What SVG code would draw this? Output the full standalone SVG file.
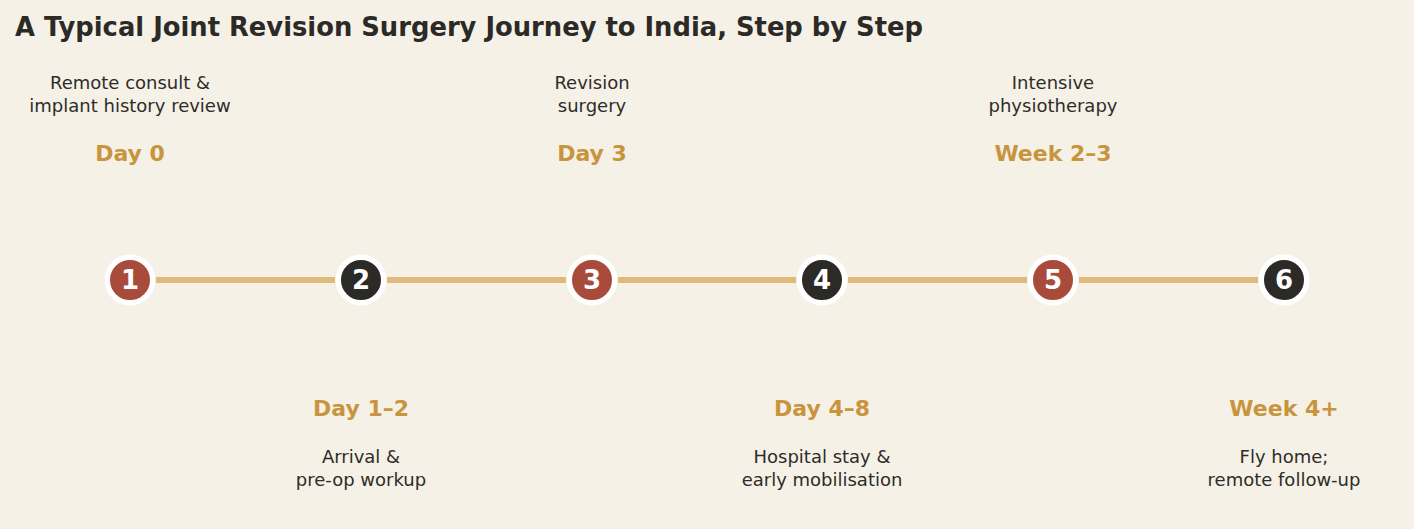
<svg xmlns="http://www.w3.org/2000/svg" width="1414" height="529" viewBox="0 0 1414 529">
<style>
.title{font-family:"DejaVu Sans",sans-serif;font-weight:bold;font-size:25.8px;fill:#2b2a27}
.desc{font-family:"DejaVu Sans",sans-serif;font-size:18px;fill:#2e2c29;text-anchor:middle}
.when{font-family:"DejaVu Sans",sans-serif;font-weight:bold;font-size:22px;fill:#c8943e;text-anchor:middle}
.num{font-family:"DejaVu Sans",sans-serif;font-weight:bold;font-size:26px;fill:#ffffff;text-anchor:middle}
.red{fill:#a84b3b;stroke:#ffffff;stroke-width:5.5}
.dark{fill:#2b2a27;stroke:#ffffff;stroke-width:5.5}
.conn{stroke:#dfba7b;stroke-width:6;fill:none}
</style>
<rect width="1414" height="529" fill="#f5f1e6"/>
<text class="title" x="15" y="36">A Typical Joint Revision Surgery Journey to India, Step by Step</text>
<g id="connectors">
<line class="conn" x1="156" y1="280" x2="335" y2="280"/>
<line class="conn" x1="387" y1="280" x2="566" y2="280"/>
<line class="conn" x1="618" y1="280" x2="796" y2="280"/>
<line class="conn" x1="848" y1="280" x2="1027" y2="280"/>
<line class="conn" x1="1079" y1="280" x2="1258" y2="280"/>
</g>
<g id="step1">
<text class="desc" x="130" y="88.5">Remote consult &amp;</text>
<text class="desc" x="130" y="111.5">implant history review</text>
<text class="when" x="130" y="160.5">Day 0</text>
<circle class="red" cx="130" cy="280" r="22.75"/>
<text class="num" x="130" y="289">1</text>
</g>
<g id="step2">
<circle class="dark" cx="361" cy="280" r="22.75"/>
<text class="num" x="361" y="289">2</text>
<text class="when" x="361" y="415.5">Day 1–2</text>
<text class="desc" x="361" y="462.5">Arrival &amp;</text>
<text class="desc" x="361" y="485.5">pre-op workup</text>
</g>
<g id="step3">
<text class="desc" x="592" y="88.5">Revision</text>
<text class="desc" x="592" y="111.5">surgery</text>
<text class="when" x="592" y="160.5">Day 3</text>
<circle class="red" cx="592" cy="280" r="22.75"/>
<text class="num" x="592" y="289">3</text>
</g>
<g id="step4">
<circle class="dark" cx="822" cy="280" r="22.75"/>
<text class="num" x="822" y="289">4</text>
<text class="when" x="822" y="415.5">Day 4–8</text>
<text class="desc" x="822" y="462.5">Hospital stay &amp;</text>
<text class="desc" x="822" y="485.5">early mobilisation</text>
</g>
<g id="step5">
<text class="desc" x="1053" y="88.5">Intensive</text>
<text class="desc" x="1053" y="111.5">physiotherapy</text>
<text class="when" x="1053" y="160.5">Week 2–3</text>
<circle class="red" cx="1053" cy="280" r="22.75"/>
<text class="num" x="1053" y="289">5</text>
</g>
<g id="step6">
<circle class="dark" cx="1284" cy="280" r="22.75"/>
<text class="num" x="1284" y="289">6</text>
<text class="when" x="1284" y="415.5">Week 4+</text>
<text class="desc" x="1284" y="462.5">Fly home;</text>
<text class="desc" x="1284" y="485.5">remote follow-up</text>
</g>
</svg>
